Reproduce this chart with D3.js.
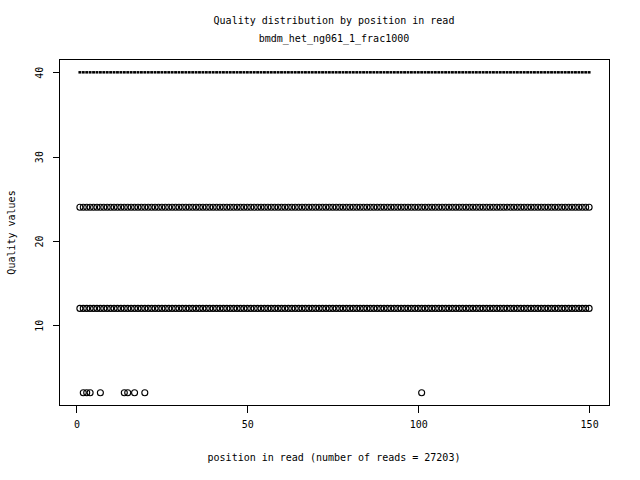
<!DOCTYPE html>
<html>
<head>
<meta charset="utf-8">
<script src="https://cdn.jsdelivr.net/npm/d3@7"></script>
<style>
  body { margin: 0; background: #fff; }
  text { font-family: "DejaVu Sans Mono", monospace; font-size: 10px; fill: #000; }
</style>
</head>
<body>
<div id="chart"></div>
<script>
// datos
var title = "Quality distribution by position in read",
    subtitle = "bmdm_het_ng061_1_frac1000",
    xLabel = "position in read (number of reads = 27203)",
    yLabel = "Quality values";

var positions = d3.range(1, 151);          // posiciones 1..150
var medianQuality = 40;                    // caja colapsada en 40 en todas las posiciones
var outlierLevels = [24, 12];              // atípicos presentes en todas las posiciones
var lowOutlierQuality = 2;
var lowOutlierPositions = [2, 3, 4, 7, 14, 15, 17, 20, 101];

var xTicks = [0, 50, 100, 150],
    yTicks = [10, 20, 30, 40];

var width = 640, height = 480,
    plot = { left: 59.5, right: 609.5, top: 59.5, bottom: 405.5 };

var svg = d3.select("#chart").append("svg")
    .attr("width", width)
    .attr("height", height);

// escalas con la extensión del 4% de R
var x = d3.scaleLinear().domain([-4.96, 155.96]).range([plot.left, plot.right]);
var y = d3.scaleLinear().domain([0.48, 41.52]).range([plot.bottom, plot.top]);

// cajas colapsadas (mediana gruesa)
svg.append("g").selectAll("line")
    .data(positions)
    .enter().append("line")
    .attr("x1", function (d) { return x(d - 0.42); })
    .attr("x2", function (d) { return x(d + 0.42); })
    .attr("y1", y(medianQuality))
    .attr("y2", y(medianQuality))
    .attr("stroke", "#000")
    .attr("stroke-width", 2.5);

// atípicos
var pts = [];
outlierLevels.forEach(function (q) {
    positions.forEach(function (p) { pts.push({ p: p, q: q }); });
});
lowOutlierPositions.forEach(function (p) { pts.push({ p: p, q: lowOutlierQuality }); });

svg.append("g").selectAll("circle")
    .data(pts)
    .enter().append("circle")
    .attr("cx", function (d) { return x(d.p); })
    .attr("cy", function (d) { return y(d.q); })
    .attr("r", 3)
    .attr("fill", "none")
    .attr("stroke", "#000")
    .attr("stroke-width", 1.1);

// marco
svg.append("rect")
    .attr("x", plot.left).attr("y", plot.top)
    .attr("width", plot.right - plot.left)
    .attr("height", plot.bottom - plot.top)
    .attr("fill", "none").attr("stroke", "#000")
    .attr("shape-rendering", "crispEdges");

// eje x
var xAxis = svg.append("g")
    .attr("transform", "translate(0," + plot.bottom + ")")
    .call(d3.axisBottom(x).tickValues(xTicks).tickSize(7).tickPadding(8).tickFormat(d3.format("d")));
xAxis.select(".domain").remove();
xAxis.selectAll("text").style("font-family", "DejaVu Sans Mono").style("font-size", "10px");
xAxis.selectAll("line").attr("shape-rendering", "crispEdges");

// eje y (etiquetas giradas como en R)
var yAxis = svg.append("g")
    .attr("transform", "translate(" + plot.left + ",0)")
    .call(d3.axisLeft(y).tickValues(yTicks).tickSize(7).tickFormat(d3.format("d")));
yAxis.select(".domain").remove();
yAxis.selectAll("line").attr("shape-rendering", "crispEdges");
yAxis.selectAll("text")
    .attr("x", null).attr("dy", null)
    .attr("text-anchor", "middle")
    .attr("transform", "translate(-17,0) rotate(-90)")
    .style("font-family", "DejaVu Sans Mono").style("font-size", "10px");

// títulos
svg.append("text").attr("x", 334).attr("y", 24).attr("text-anchor", "middle").text(title);
svg.append("text").attr("x", 334).attr("y", 42).attr("text-anchor", "middle").text(subtitle);
svg.append("text").attr("x", 334).attr("y", 461).attr("text-anchor", "middle").text(xLabel);
svg.append("text")
    .attr("transform", "translate(15," + ((plot.top + plot.bottom) / 2) + ") rotate(-90)")
    .attr("text-anchor", "middle").text(yLabel);
</script>
</body>
</html>
